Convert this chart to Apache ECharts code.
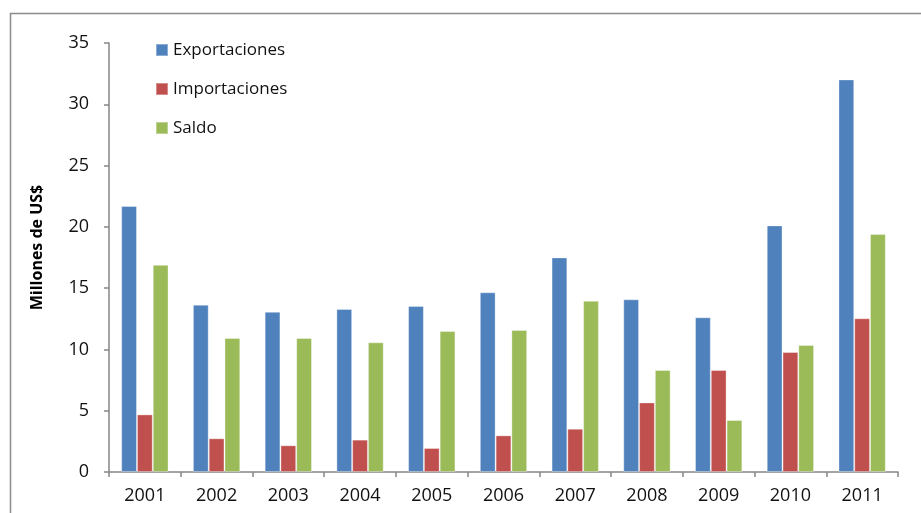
<!DOCTYPE html>
<html>
<head>
<meta charset="utf-8">
<script src="https://cdn.jsdelivr.net/npm/echarts@6/dist/echarts.min.js"></script>
<style>html,body{margin:0;padding:0;background:#fff}#c{width:921px;height:513px}</style>
</head>
<body>
<div id="c"></div>
<script>
var categories = ['2001','2002','2003','2004','2005','2006','2007','2008','2009','2010','2011'];
var exportaciones = [21.7, 13.65, 13.07, 13.3, 13.54, 14.66, 17.51, 14.09, 12.62, 20.12, 32.03];
var importaciones = [4.7, 2.75, 2.18, 2.64, 1.96, 2.99, 3.53, 5.68, 8.32, 9.79, 12.54];
var saldo = [16.9, 10.93, 10.93, 10.58, 11.5, 11.58, 13.97, 8.32, 4.24, 10.36, 19.41];
var seriesNames = ['Exportaciones', 'Importaciones', 'Saldo'];
var yTitle = 'Millones de US$';

var FONT = 'Open Sans';
var chart = echarts.init(document.getElementById('c'));
function bar(name, data, color) {
  return {
    name: name, type: 'bar', data: data,
    barGap: '0%', barCategoryGap: '34%',
    itemStyle: { color: color, borderColor: 'rgba(255,255,255,0.35)', borderWidth: 1 },
    emphasis: { disabled: true }
  };
}
chart.setOption({
  animation: false,
  textStyle: { fontFamily: FONT },
  grid: { left: 109, right: 23, top: 43, bottom: 41, containLabel: false },
  legend: {
    orient: 'vertical', left: 155, top: 41, padding: 0, itemWidth: 12, itemHeight: 12, itemGap: 21,
    icon: 'rect',
    textStyle: { fontFamily: FONT, fontSize: 17, lineHeight: 18, color: '#111' },
    data: seriesNames
  },
  xAxis: {
    type: 'category', data: categories,
    axisLine: { lineStyle: { color: '#868686', width: 1.5 } },
    axisTick: { show: true, length: 5, interval: 0, lineStyle: { color: '#868686', width: 1.5 } },
    axisLabel: { color: '#111', fontSize: 18, fontFamily: FONT, margin: 15 }
  },
  yAxis: {
    type: 'value', min: 0, max: 35, interval: 5,
    name: yTitle, nameLocation: 'middle', nameGap: 64, nameRotate: 90,
    nameTextStyle: { fontFamily: FONT, fontSize: 16, fontWeight: 'bold', color: '#000', padding: [0, 0, 0, 20] },
    axisLine: { show: true, lineStyle: { color: '#868686', width: 1.5 } },
    axisTick: { show: true, length: 5, lineStyle: { color: '#868686', width: 1.5 } },
    splitLine: { show: false },
    axisLabel: { color: '#111', fontSize: 18, fontFamily: FONT, margin: 20 }
  },
  graphic: [
    { type: 'polyline', shape: { points: [[10.5, 513], [10.5, 13.5], [921, 13.5]] },
      style: { stroke: '#8c8c8c', lineWidth: 1.5, fill: null }, silent: true }
  ],
  series: [
    bar(seriesNames[0], exportaciones, '#4F81BD'),
    bar(seriesNames[1], importaciones, '#C0504D'),
    bar(seriesNames[2], saldo, '#9BBB59')
  ]
});
</script>
</body>
</html>
